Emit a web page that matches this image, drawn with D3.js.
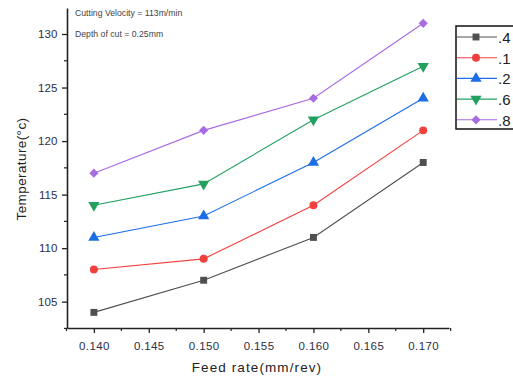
<!DOCTYPE html>
<html>
<head>
<meta charset="utf-8">
<script src="https://cdn.jsdelivr.net/npm/d3@7"></script>
<style>
  html, body { margin: 0; padding: 0; background: #fff; }
  svg { display: block; font-family: Arial, "Liberation Sans", sans-serif; }
</style>
</head>
<body>
<svg id="chart" width="513" height="378"></svg>
<script>
// Feed rate values on the x axis (mm/rev)
const feedRates = [0.140, 0.150, 0.160, 0.170];

// Series names as shown in the legend
const seriesNames = [".4", ".1", ".2", ".6", ".8"];

// Temperature readings (°C) for each series
const temp_04 = [104, 107, 111, 118];
const temp_01 = [108, 109, 114, 121];
const temp_02 = [111, 113, 118, 124];
const temp_06 = [114, 116, 122, 127];
const temp_08 = [117, 121, 124, 131];

const xTickValues = [0.140, 0.145, 0.150, 0.155, 0.160, 0.165, 0.170];
const yTickValues = [105, 110, 115, 120, 125, 130];

const annotations = ["Cutting Velocity = 113m/min", "Depth of cut = 0.25mm"];

const series = [
  { name: seriesNames[0], values: temp_04, color: "#505050", marker: "square" },
  { name: seriesNames[1], values: temp_01, color: "#f2403f", marker: "circle" },
  { name: seriesNames[2], values: temp_02, color: "#1c6ee6", marker: "triangleUp" },
  { name: seriesNames[3], values: temp_06, color: "#22a060", marker: "triangleDown" },
  { name: seriesNames[4], values: temp_08, color: "#a86be2", marker: "diamond" }
];

const svg = d3.select("#chart");
const plotLeft = 67, plotRight = 449, plotTop = 8, plotBottom = 328;

const x = d3.scaleLinear().domain([0.13755, 0.17235]).range([plotLeft, plotRight]);
const y = d3.scaleLinear().domain([102.54, 132.43]).range([plotBottom, plotTop]);

const axisColor = "#222";
const labelColor = "#2b2f45";

// Minor ticks
const xMinor = d3.range(0.1375, 0.1726, 0.0025).filter(v => !xTickValues.some(t => Math.abs(t - v) < 1e-6));
const yMinor = d3.range(102.5, 132.5, 2.5).filter(v => !yTickValues.some(t => Math.abs(t - v) < 1e-6));

// X axis
const xAxis = svg.append("g").attr("transform", `translate(0,${plotBottom})`)
  .call(d3.axisBottom(x).tickValues(xTickValues).tickFormat(d3.format(".3f")).tickSize(5).tickSizeOuter(0));
xAxis.selectAll("text").attr("font-size", 11.5).attr("fill", labelColor).attr("dy", "1.2em")
  .attr("letter-spacing", "0.4");
xAxis.selectAll("line").attr("stroke", axisColor).attr("stroke-width", 1.3);
xAxis.select(".domain").attr("stroke", axisColor).attr("stroke-width", 1.6);
xAxis.selectAll(".minor").data(xMinor).enter().append("line")
  .attr("x1", d => x(d)).attr("x2", d => x(d)).attr("y1", 0).attr("y2", 3)
  .attr("stroke", axisColor).attr("stroke-width", 1.2);

// Y axis
const yAxis = svg.append("g").attr("transform", `translate(${plotLeft},0)`)
  .call(d3.axisLeft(y).tickValues(yTickValues).tickSize(5).tickSizeOuter(0));
yAxis.selectAll("text").attr("font-size", 11.5).attr("fill", labelColor).attr("dx", "-0.15em");
yAxis.selectAll("line").attr("stroke", axisColor).attr("stroke-width", 1.3);
yAxis.select(".domain").attr("stroke", axisColor).attr("stroke-width", 1.6);
yAxis.selectAll(".minor").data(yMinor).enter().append("line")
  .attr("x1", 0).attr("x2", -3).attr("y1", d => y(d)).attr("y2", d => y(d))
  .attr("stroke", axisColor).attr("stroke-width", 1.2);

// Axis titles
svg.append("text")
  .attr("x", 257).attr("y", 372)
  .attr("text-anchor", "middle").attr("font-size", 13.5).attr("fill", "#222")
  .attr("letter-spacing", "1.1")
  .text("Feed rate(mm/rev)");

svg.append("text")
  .attr("transform", "translate(26,169) rotate(-90)")
  .attr("text-anchor", "middle").attr("font-size", 13.5).attr("fill", "#222")
  .attr("letter-spacing", "0.4")
  .text("Temperature(°c)");

// Annotations
annotations.forEach((t, i) => {
  svg.append("text")
    .attr("x", 75).attr("y", 16 + i * 21)
    .attr("font-size", 8.7).attr("fill", "#444")
    .text(t);
});

// Marker shapes
const symbolFor = {
  square: d3.symbolSquare,
  circle: d3.symbolCircle,
  triangleUp: d3.symbolTriangle,
  triangleDown: d3.symbolTriangle,
  diamond: d3.symbolSquare
};
const sizeFor = { square: 48, circle: 50, triangleUp: 55, triangleDown: 55, diamond: 42 };
const rotateFor = { triangleDown: 180, diamond: 45 };

function drawMarker(g, s, cx, cy) {
  const r = rotateFor[s.marker];
  g.append("path")
    .attr("d", d3.symbol().type(symbolFor[s.marker]).size(sizeFor[s.marker])())
    .attr("transform", `translate(${cx},${cy})` + (r ? ` rotate(${r})` : ""))
    .attr("fill", s.color);
}

const line = d3.line().x((d, i) => x(feedRates[i])).y(d => y(d));

series.forEach(s => {
  const g = svg.append("g");
  g.append("path").datum(s.values)
    .attr("d", line).attr("fill", "none").attr("stroke", s.color).attr("stroke-width", 1.1);
  s.values.forEach((v, i) => drawMarker(g, s, x(feedRates[i]), y(v)));
});

// Legend
const legend = svg.append("g");
legend.append("rect")
  .attr("x", 456).attr("y", 26).attr("width", 70).attr("height", 103)
  .attr("fill", "#fff").attr("stroke", "#111").attr("stroke-width", 1.5);
series.forEach((s, i) => {
  const ly = 37 + i * 20.7;
  legend.append("line").attr("x1", 457).attr("x2", 497).attr("y1", ly).attr("y2", ly)
    .attr("stroke", s.color).attr("stroke-width", 1.1);
  drawMarker(legend, s, 476, ly);
  legend.append("text").attr("x", 498).attr("y", ly + 6)
    .attr("font-size", 15).attr("fill", "#222").text(s.name);
});
</script>
</body>
</html>
